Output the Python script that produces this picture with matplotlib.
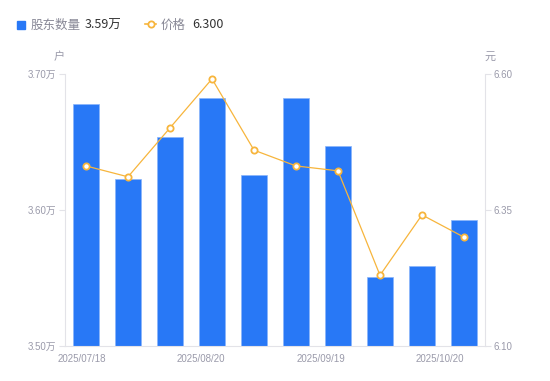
import numpy as np
import matplotlib.pyplot as plt

plt.rcParams['font.family'] = ['Noto Sans CJK SC', 'DejaVu Sans']

holders = [3.678, 3.623, 3.654, 3.682, 3.626, 3.682, 3.647, 3.551, 3.559, 3.593]
price = [6.431, 6.411, 6.501, 6.591, 6.460, 6.431, 6.422, 6.230, 6.341, 6.300]
date_labels = ['2025/07/18', '2025/08/20', '2025/09/19', '2025/10/20']
left_ticks = [3.50, 3.60, 3.70]
right_ticks = [6.10, 6.35, 6.60]

blue = '#2878f6'
orange = '#f7b53c'
grey = '#9a9aaa'
axis_col = '#e3e3e8'
tick_font = ['Liberation Sans', 'Noto Sans CJK SC']

fig = plt.figure(figsize=(5.5, 3.81), dpi=100)
ax = fig.add_axes([65 / 550, 1 - 346 / 381, 420 / 550, 272 / 381])
x = np.arange(len(holders))
ax.bar(x, holders, width=0.6, color=blue, edgecolor='#8ab4fa', linewidth=0.5, zorder=2)
ax.set_xlim(-0.5, len(holders) - 0.5)
ax.set_ylim(3.50, 3.70)
ax.set_yticks(left_ticks)
ax.set_yticklabels([f'{v:.2f}万' for v in left_ticks], family=tick_font)

ax2 = ax.twinx()
ax2.plot(x, price, color=orange, linewidth=0.9, marker='o', markersize=4.5,
         markerfacecolor='white', markeredgecolor=orange, markeredgewidth=1.3, zorder=3)
ax2.set_ylim(6.10, 6.60)
ax2.set_yticks(right_ticks)
ax2.set_yticklabels([f'{v:.2f}' for v in right_ticks], family=tick_font)

ax.set_xticks(np.linspace(-0.1, 8.43, len(date_labels)))
ax.set_xticklabels(date_labels, family=tick_font)

for a in (ax, ax2):
    for s in a.spines.values():
        s.set_visible(False)
    a.tick_params(colors=axis_col, labelcolor=grey, labelsize=7, length=4, width=0.8, pad=2)
ax.tick_params(axis='x', length=0, pad=6)
ax.spines['left'].set_visible(True)
ax.spines['left'].set_color(axis_col)
ax.spines['bottom'].set_visible(True)
ax.spines['bottom'].set_color(axis_col)
ax2.spines['right'].set_visible(True)
ax2.spines['right'].set_color(axis_col)

fig.text(59 / 550, 1 - 57 / 381, '户', color=grey, fontsize=8, ha='center', va='center')
fig.text(490 / 550, 1 - 57 / 381, '元', color=grey, fontsize=8, ha='center', va='center')

# legend
ly = 1 - 25 / 381
fig.patches.append(plt.Rectangle((17 / 550, 1 - 29 / 381), 8 / 550, 8 / 381,
                                 transform=fig.transFigure, color=blue, figure=fig))
fig.text(31 / 550, ly, '股东数量', color='#888896', fontsize=9, va='center')
fig.text(85 / 550, ly, f'{holders[-1]:.2f}万', color='#333333', fontsize=9, va='center')
fig.lines.append(plt.Line2D([145 / 550, 156 / 550], [1 - 24 / 381] * 2, transform=fig.transFigure,
                            color=orange, linewidth=1.2))
fig.lines.append(plt.Line2D([150.5 / 550], [1 - 24 / 381], transform=fig.transFigure,
                            color=orange, marker='o', markersize=4.5, markerfacecolor='white',
                            markeredgewidth=1.3, linestyle='none'))
fig.text(161 / 550, ly, '价格', color='#888896', fontsize=9, va='center')
fig.text(192 / 550, ly, f'{price[-1]:.3f}', color='#333333', fontsize=9, va='center')

fig.savefig('out.png', dpi=100)
